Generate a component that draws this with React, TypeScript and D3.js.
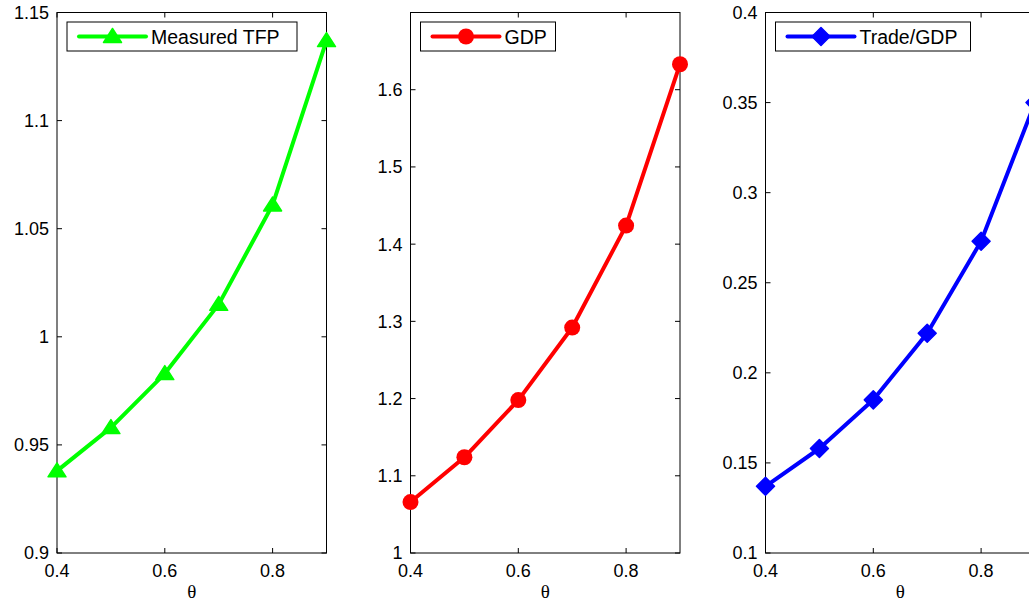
import React, { useEffect, useRef } from 'react';
import * as d3 from 'd3';

const theta = [0.4, 0.5, 0.6, 0.7, 0.8, 0.9];
const tfp = [0.938, 0.958, 0.983, 1.015, 1.061, 1.137];
const gdp = [1.066, 1.124, 1.198, 1.292, 1.424, 1.633];
const tradeGdp = [0.137, 0.158, 0.185, 0.222, 0.273, 0.35];
const xTicks = [0.4, 0.6, 0.8];
const tfpTicks = [0.9, 0.95, 1, 1.05, 1.1, 1.15];
const gdpTicks = [1, 1.1, 1.2, 1.3, 1.4, 1.5, 1.6];
const tradeTicks = [0.1, 0.15, 0.2, 0.25, 0.3, 0.35, 0.4];

const panels = [
  { label: 'Measured TFP', values: tfp, ticks: tfpTicks, domain: [0.9, 1.15], color: '#00ff00', marker: 'triangle', left: 57, legendW: 230 },
  { label: 'GDP', values: gdp, ticks: gdpTicks, domain: [1, 1.7], color: '#ff0000', marker: 'circle', left: 410.5, legendW: 135 },
  { label: 'Trade/GDP', values: tradeGdp, ticks: tradeTicks, domain: [0.1, 0.4], color: '#0000ff', marker: 'diamond', left: 765.5, legendW: 195 },
];

const W = 1029, H = 605;
const top = 12.5, bottom = 553, pw = 269.5;

const App = () => {
  const svgRef = useRef<SVGSVGElement>(null);

  useEffect(() => {
    const svg = d3.select(svgRef.current);
    svg.selectAll('*').remove();
    const font = '"Liberation Sans", Arial, sans-serif';

    const drawMarker = (g: any, kind: string, cx: number, cy: number, color: string) => {
      if (kind === 'circle') {
        g.append('circle').attr('cx', cx).attr('cy', cy).attr('r', 8).attr('fill', color);
      } else if (kind === 'triangle') {
        g.append('path')
          .attr('d', `M${cx},${cy - 8} L${cx + 9},${cy + 6} L${cx - 9},${cy + 6} Z`)
          .attr('fill', color).attr('stroke', color).attr('stroke-width', 1.5).attr('stroke-linejoin', 'round');
      } else {
        g.append('path')
          .attr('d', `M${cx},${cy - 9} L${cx + 9},${cy} L${cx},${cy + 9} L${cx - 9},${cy} Z`)
          .attr('fill', color).attr('stroke', color).attr('stroke-width', 1.5).attr('stroke-linejoin', 'round');
      }
    };

    panels.forEach(p => {
      const x = d3.scaleLinear().domain([0.4, 0.9]).range([p.left, p.left + pw]);
      const y = d3.scaleLinear().domain(p.domain).range([bottom, top]);
      const g = svg.append('g');

      g.append('rect').attr('x', p.left).attr('y', top).attr('width', pw).attr('height', bottom - top)
        .attr('fill', 'white').attr('stroke', 'black').attr('stroke-width', 1);

      // inward ticks on all sides
      xTicks.forEach(t => {
        g.append('line').attr('x1', x(t)).attr('x2', x(t)).attr('y1', bottom).attr('y2', bottom - 5).attr('stroke', 'black');
        g.append('line').attr('x1', x(t)).attr('x2', x(t)).attr('y1', top).attr('y2', top + 5).attr('stroke', 'black');
        g.append('text').attr('x', x(t)).attr('y', 577).attr('text-anchor', 'middle')
          .attr('font-family', font).attr('font-size', 18).text(d3.format('.1f')(t));
      });
      p.ticks.forEach(t => {
        g.append('line').attr('x1', p.left).attr('x2', p.left + 5).attr('y1', y(t)).attr('y2', y(t)).attr('stroke', 'black');
        g.append('line').attr('x1', p.left + pw).attr('x2', p.left + pw - 5).attr('y1', y(t)).attr('y2', y(t)).attr('stroke', 'black');
        g.append('text').attr('x', p.left - 8).attr('y', y(t)).attr('dy', '0.36em').attr('text-anchor', 'end')
          .attr('font-family', font).attr('font-size', 18).text(String(t));
      });

      g.append('text').attr('x', p.left + pw / 2).attr('y', 598).attr('text-anchor', 'middle')
        .attr('font-family', '"Liberation Serif", serif').attr('font-size', 19).text('θ');

      const line = d3.line<number>().x((_, i) => x(theta[i])).y(d => y(d));
      g.append('path').datum(p.values).attr('fill', 'none').attr('stroke', p.color)
        .attr('stroke-width', 4).attr('stroke-linejoin', 'round').attr('d', line);
      p.values.forEach((v, i) => drawMarker(g, p.marker, x(theta[i]), y(v), p.color));

      // legend
      const lx = p.left + 10, ly = 22;
      g.append('rect').attr('x', lx).attr('y', ly).attr('width', p.legendW).attr('height', 29)
        .attr('fill', 'white').attr('stroke', 'black').attr('stroke-width', 1);
      g.append('line').attr('x1', lx + 12).attr('x2', lx + 79).attr('y1', ly + 14.5).attr('y2', ly + 14.5)
        .attr('stroke', p.color).attr('stroke-width', 4).attr('stroke-linecap', 'round');
      drawMarker(g, p.marker, lx + 45.5, ly + 14.5, p.color);
      g.append('text').attr('x', lx + 84).attr('y', ly + 14.5).attr('dy', '0.36em')
        .attr('font-family', font).attr('font-size', 19.5).text(p.label);
    });
  }, []);

  return (
    <div style={{ position: 'fixed', left: 0, top: 0, width: W, height: H, background: 'white' }}>
      <svg ref={svgRef} width={W} height={H} style={{ display: 'block' }} />
    </div>
  );
};

export default App;
